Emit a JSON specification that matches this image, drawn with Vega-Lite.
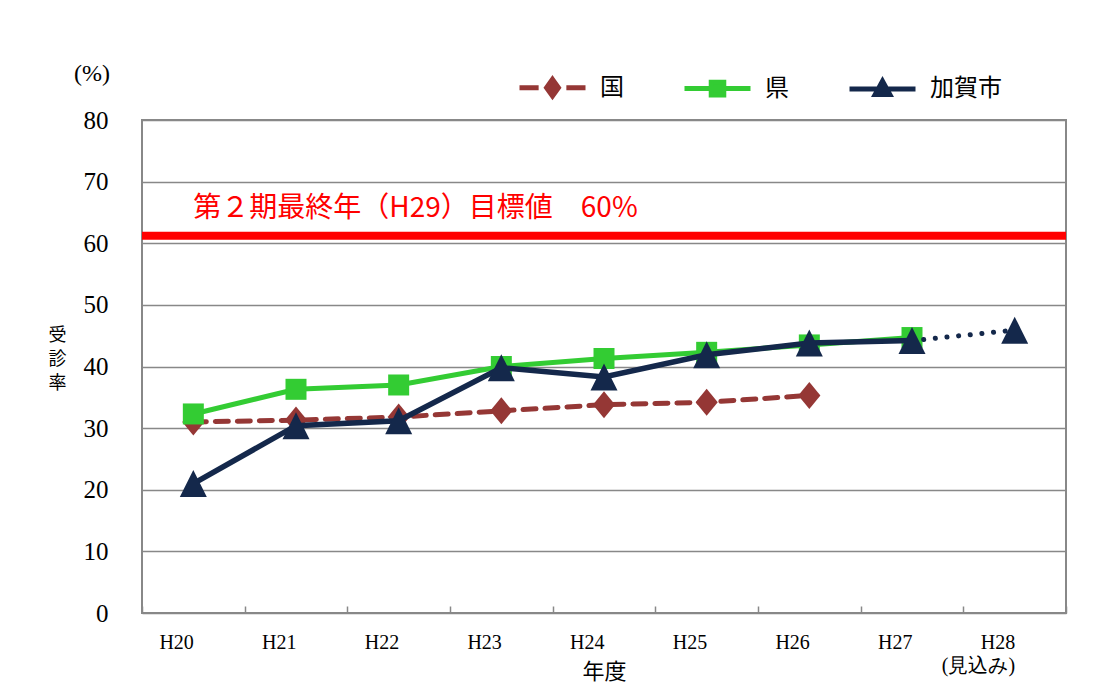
{
  "$schema": "https://vega.github.io/schema/vega-lite/v6.json",
  "width": 924,
  "height": 493,
  "autosize": {"type": "none"},
  "padding": {"left": 142, "top": 120, "right": 31, "bottom": 76},
  "background": "white",
  "title": {"text": "(%)", "anchor": "start", "frame": "group", "dx": -68, "offset": -34, "font": "Liberation Serif", "fontSize": 24, "fontWeight": "normal", "color": "#000"},
  "data": {"values": [
    {"year": "H20", "series": "国", "value": 31.0},
    {"year": "H21", "series": "国", "value": 31.3},
    {"year": "H22", "series": "国", "value": 31.8},
    {"year": "H23", "series": "国", "value": 32.8},
    {"year": "H24", "series": "国", "value": 33.8},
    {"year": "H25", "series": "国", "value": 34.2},
    {"year": "H26", "series": "国", "value": 35.3},
    {"year": "H20", "series": "県", "value": 32.3},
    {"year": "H21", "series": "県", "value": 36.3},
    {"year": "H22", "series": "県", "value": 37.0},
    {"year": "H23", "series": "県", "value": 40.0},
    {"year": "H24", "series": "県", "value": 41.3},
    {"year": "H25", "series": "県", "value": 42.3},
    {"year": "H26", "series": "県", "value": 43.5},
    {"year": "H27", "series": "県", "value": 44.7},
    {"year": "H20", "series": "加賀市", "value": 21.0},
    {"year": "H21", "series": "加賀市", "value": 30.4},
    {"year": "H22", "series": "加賀市", "value": 31.2},
    {"year": "H23", "series": "加賀市", "value": 39.8},
    {"year": "H24", "series": "加賀市", "value": 38.3},
    {"year": "H25", "series": "加賀市", "value": 41.9},
    {"year": "H26", "series": "加賀市", "value": 43.8},
    {"year": "H27", "series": "加賀市", "value": 44.2},
    {"year": "H28", "series": "加賀市", "value": 45.9}
  ]},
  "layer": [
    {
      "data": {"values": [{}]},
      "mark": {"type": "rule", "color": "#FF0000", "strokeWidth": 8},
      "encoding": {"y": {"datum": 61.2, "type": "quantitative", "scale": {"domain": [0, 80], "nice": false}}}
    },
    {
      "data": {"values": [{}]},
      "mark": {"type": "text", "align": "left", "baseline": "middle", "font": "Noto Sans CJK JP", "fontSize": 28, "color": "#FF0000"},
      "encoding": {
        "x": {"datum": "H20", "type": "nominal", "scale": {"type": "band", "domain": ["H20","H21","H22","H23","H24","H25","H26","H27","H28"], "paddingInner": 0, "paddingOuter": 0}},
        "y": {"datum": 65.6, "type": "quantitative", "scale": {"domain": [0, 80], "nice": false}},
        "text": {"value": "第２期最終年（H29）目標値　60%"}
      }
    },
    {
      "transform": [{"filter": "datum.series == '国'"}],
      "mark": {"type": "line", "color": "#953735", "strokeWidth": 5, "strokeDash": [13, 9], "strokeCap": "round"},
      "encoding": {
        "x": {"field": "year", "type": "nominal", "sort": null, "scale": {"type": "band", "domain": ["H20","H21","H22","H23","H24","H25","H26","H27","H28"], "paddingInner": 0, "paddingOuter": 0},
          "axis": {"title": "年度", "domain": false, "grid": false, "ticks": true, "tickBand": "extent", "tickSize": -7, "tickColor": "#888", "tickWidth": 1.5, "labelAngle": 0, "labelFont": "Liberation Serif", "labelFontSize": 20, "labelColor": "#000", "labelPadding": 26, "labelBaseline": "top", "labelLineHeight": 23, "labelExpr": "datum.value == 'H28' ? ['H28', '(見込み)'] : datum.value", "titleFont": "Noto Sans CJK JP", "titleFontSize": 22, "titleFontWeight": "normal", "titleColor": "#000", "titleY": 48, "titleBaseline": "top"}},
        "y": {"field": "value", "type": "quantitative", "scale": {"domain": [0, 80], "nice": false},
          "axis": {"title": ["受", "診", "率"], "values": [0, 10, 20, 30, 40, 50, 60, 70, 80], "domain": false, "ticks": false, "grid": true, "gridColor": "#888", "gridWidth": 1.5, "labelFont": "Liberation Serif", "labelFontSize": 25, "labelColor": "#000", "labelPadding": 34, "titleAngle": 0, "titleX": -85, "titleY": 215, "titleAlign": "center", "titleBaseline": "middle", "titleFont": "Noto Sans CJK JP", "titleFontSize": 18, "titleFontWeight": "normal", "titleLineHeight": 24, "titleColor": "#000"}}
      }
    },
    {
      "transform": [{"filter": "datum.series == '国'"}],
      "mark": {"type": "point", "shape": "M0,-1L0.82,0L0,1L-0.82,0Z", "size": 729, "filled": true, "color": "#953735", "opacity": 1},
      "encoding": {
        "x": {"field": "year", "type": "nominal", "scale": {"type": "band", "domain": ["H20","H21","H22","H23","H24","H25","H26","H27","H28"], "paddingInner": 0, "paddingOuter": 0}},
        "y": {"field": "value", "type": "quantitative", "scale": {"domain": [0, 80], "nice": false}}
      }
    },
    {
      "transform": [{"filter": "datum.series == '県'"}],
      "mark": {"type": "line", "color": "#33CC33", "strokeWidth": 5},
      "encoding": {
        "x": {"field": "year", "type": "nominal", "scale": {"type": "band", "domain": ["H20","H21","H22","H23","H24","H25","H26","H27","H28"], "paddingInner": 0, "paddingOuter": 0}},
        "y": {"field": "value", "type": "quantitative", "scale": {"domain": [0, 80], "nice": false}}
      }
    },
    {
      "transform": [{"filter": "datum.series == '県'"}],
      "mark": {"type": "point", "shape": "square", "size": 441, "filled": true, "color": "#33CC33", "opacity": 1},
      "encoding": {
        "x": {"field": "year", "type": "nominal", "scale": {"type": "band", "domain": ["H20","H21","H22","H23","H24","H25","H26","H27","H28"], "paddingInner": 0, "paddingOuter": 0}},
        "y": {"field": "value", "type": "quantitative", "scale": {"domain": [0, 80], "nice": false}}
      }
    },
    {
      "transform": [{"filter": "datum.series == '加賀市' && datum.year != 'H28'"}],
      "mark": {"type": "line", "color": "#14284B", "strokeWidth": 5.5},
      "encoding": {
        "x": {"field": "year", "type": "nominal", "scale": {"type": "band", "domain": ["H20","H21","H22","H23","H24","H25","H26","H27","H28"], "paddingInner": 0, "paddingOuter": 0}},
        "y": {"field": "value", "type": "quantitative", "scale": {"domain": [0, 80], "nice": false}}
      }
    },
    {
      "transform": [{"filter": "datum.series == '加賀市' && (datum.year == 'H27' || datum.year == 'H28')"}],
      "mark": {"type": "line", "color": "#14284B", "strokeWidth": 5, "strokeDash": [0.1, 11.6], "strokeCap": "round"},
      "encoding": {
        "x": {"field": "year", "type": "nominal", "scale": {"type": "band", "domain": ["H20","H21","H22","H23","H24","H25","H26","H27","H28"], "paddingInner": 0, "paddingOuter": 0}},
        "y": {"field": "value", "type": "quantitative", "scale": {"domain": [0, 80], "nice": false}}
      }
    },
    {
      "transform": [{"filter": "datum.series == '加賀市'"}],
      "mark": {"type": "point", "shape": "M0,-1L1,1L-1,1Z", "size": 729, "filled": true, "color": "#14284B", "opacity": 1},
      "encoding": {
        "x": {"field": "year", "type": "nominal", "scale": {"type": "band", "domain": ["H20","H21","H22","H23","H24","H25","H26","H27","H28"], "paddingInner": 0, "paddingOuter": 0}},
        "y": {"field": "value", "type": "quantitative", "scale": {"domain": [0, 80], "nice": false}}
      }
    },
    {
      "data": {"values": [{"s": "国"}, {"s": "県"}, {"s": "加賀市"}]},
      "transform": [{"filter": "datum.s == 'none'"}],
      "mark": {"type": "point", "filled": true, "strokeWidth": 5, "opacity": 1},
      "encoding": {
        "shape": {"field": "s", "type": "nominal", "title": null, "scale": {"domain": ["国", "県", "加賀市"], "range": ["M-1,0H-0.42M0.42,0H1M0,-0.25L0.18,0L0,0.25L-0.18,0Z", "M-1,0H1M-0.19,-0.19H0.19V0.19H-0.19Z", "M-1,0H1M0,-0.24L0.22,0.16L-0.22,0.16Z"]}},
        "fill": {"field": "s", "type": "nominal", "title": null, "scale": {"domain": ["国", "県", "加賀市"], "range": ["#953735", "#33CC33", "#14284B"]}},
        "stroke": {"field": "s", "type": "nominal", "title": null, "scale": {"domain": ["国", "県", "加賀市"], "range": ["#953735", "#33CC33", "#14284B"]}}
      }
    }
  ],
  "config": {
    "view": {"stroke": "#888", "strokeWidth": 2},
    "legend": {"orient": "none", "legendX": 375, "legendY": -68, "direction": "horizontal", "symbolSize": 4356, "symbolStrokeWidth": 5, "symbolOpacity": 1, "labelFont": "Noto Sans CJK JP", "labelFontSize": 24, "labelColor": "#000", "labelOffset": 12, "columnPadding": 50, "padding": 0}
  }
}
